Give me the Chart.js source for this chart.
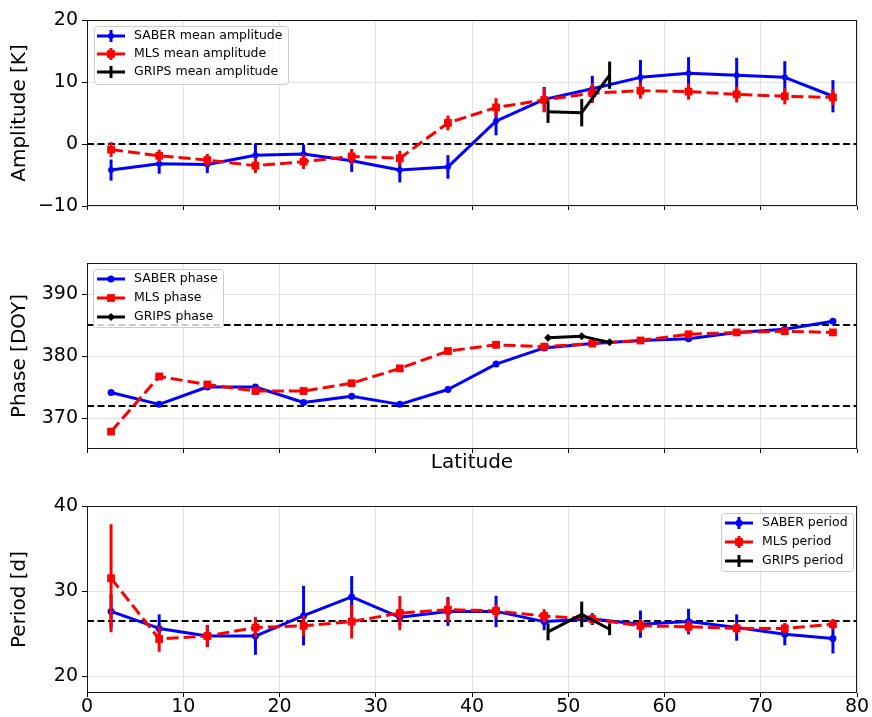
<!DOCTYPE html>
<html>
<head>
<meta charset="utf-8">
<title>Amplitude, phase and period versus latitude</title>
<script src="https://cdn.jsdelivr.net/npm/chart.js@4.4.1/dist/chart.umd.min.js"></script>
<style>
  html, body { margin: 0; padding: 0; background: #ffffff; }
  #wrap { position: relative; width: 872px; height: 717px; overflow: hidden; }
  #wrap canvas { position: absolute; left: 0; top: 0; }
</style>
</head>
<body>
<div id="wrap">
  <canvas id="cAmp" width="872" height="717"></canvas>
  <canvas id="cPhase" width="872" height="717"></canvas>
  <canvas id="cPeriod" width="872" height="717"></canvas>
</div>
<script>
// ---- data -------------------------------------------------------------
const latitudes      = [2.5, 7.5, 12.5, 17.5, 22.5, 27.5, 32.5, 37.5, 42.5, 47.5, 52.5, 57.5, 62.5, 67.5, 72.5, 77.5];
const gripsLatitudes = [47.9, 51.4, 54.3];

// mean amplitude [K]
const saberAmp    = [-4.2, -3.2, -3.3, -1.8, -1.6, -2.7, -4.2, -3.7, 3.7, 7.2, 8.9, 10.75, 11.4, 11.1, 10.75, 7.7];
const saberAmpErr = [1.7, 1.6, 1.4, 1.9, 1.5, 1.8, 2.0, 1.9, 2.3, 2.0, 2.1, 2.8, 2.6, 2.8, 2.6, 2.6];
const mlsAmp      = [-0.9, -1.9, -2.6, -3.5, -2.85, -2.0, -2.3, 3.4, 5.9, 7.1, 8.2, 8.6, 8.45, 8.0, 7.7, 7.5];
const mlsAmpErr   = [1.2, 1.0, 1.0, 1.2, 1.2, 1.2, 1.2, 1.2, 1.5, 2.0, 1.6, 1.3, 1.3, 1.3, 1.3, 1.3];
const gripsAmp    = [5.2, 5.05, 11.1];
const gripsAmpErr = [1.8, 2.2, 2.2];

// phase [DOY]
const saberPhase = [374.1, 372.2, 375.0, 375.0, 372.5, 373.5, 372.2, 374.6, 378.7, 381.3, 382.0, 382.5, 382.8, 383.8, 384.3, 385.6];
const mlsPhase   = [367.8, 376.7, 375.4, 374.35, 374.35, 375.6, 378.0, 380.8, 381.8, 381.5, 382.0, 382.5, 383.5, 383.8, 384.0, 383.8];
const gripsPhase = [382.95, 383.2, 382.2];

// period [d]
const saberPeriod    = [27.6, 25.6, 24.7, 24.7, 27.1, 29.3, 26.9, 27.6, 27.6, 26.4, 26.7, 26.1, 26.4, 25.7, 24.9, 24.4];
const saberPeriodErr = [2.0, 1.65, 1.3, 2.2, 3.5, 2.45, 1.0, 1.7, 1.85, 1.0, 0.7, 1.6, 1.5, 1.55, 1.3, 1.75];
const mlsPeriod      = [31.5, 24.35, 24.7, 25.7, 25.9, 26.4, 27.4, 27.8, 27.65, 27.06, 26.7, 25.9, 25.8, 25.6, 25.6, 26.1];
const mlsPeriodErr   = [6.35, 1.5, 1.3, 1.2, 1.2, 2.0, 2.0, 1.4, 0.8, 0.8, 0.6, 0.8, 0.7, 0.6, 0.6, 0.6];
const gripsPeriod    = [25.2, 27.25, 25.5];
const gripsPeriodErr = [1.0, 1.5, 0.7];

// reference levels (dashed lines)
const ampRefLines    = [0];
const phaseRefLines  = [385, 372];
const periodRefLines = [26.5];

// tick values
const latTicks    = [0, 10, 20, 30, 40, 50, 60, 70, 80];
const ampTicks    = [-10, 0, 10, 20];
const phaseTicks  = [370, 380, 390];
const periodTicks = [20, 30, 40];

// ---- styling ----------------------------------------------------------
const FONT = '"DejaVu Sans", "Liberation Sans", sans-serif';
Chart.defaults.font.family = FONT;
Chart.defaults.color = '#000000';

const BLUE = '#0000ff', RED = '#ff0000', BLACK = '#000000';
const GRID = 'rgba(176,176,176,0.35)';

function fmtTick(v) {
  return v < 0 ? '\u2212' + Math.abs(v) : String(v);
}

function series(label, xs, ys, errs, style) {
  return Object.assign({
    label: label,
    data: xs.map((x, i) => ({ x: x, y: ys[i] })),
    errors: errs,
    showLine: true,
    fill: false,
    tension: 0,
    borderWidth: 3,
    borderJoinStyle: 'round',
    borderCapStyle: 'butt',
    pointBorderWidth: 0,
    pointHoverRadius: 0
  }, style);
}

const saberStyle = (r) => ({ borderColor: BLUE, backgroundColor: BLUE, pointStyle: 'circle', pointRadius: r, order: 3 });
const mlsStyle   = (r) => ({ borderColor: RED, backgroundColor: RED, borderDash: [12, 5], pointStyle: 'rect', pointRadius: r, order: 2 });
const gripsStyle = (ps, r) => ({ borderColor: BLACK, backgroundColor: BLACK, pointStyle: ps, pointRadius: r, order: 1 });

// per-panel decorations: reference lines, axis titles, legend box
const decor = {
  cAmp: {
    refLines: ampRefLines,
    yTitle: 'Amplitude [K]',
    legend: { x: 94, y: 26, w: 194, h: 58, x0: 97, x1: 125, tx: 134, rows: [36, 54, 72], items: [0, 1, 2], errBars: true }
  },
  cPhase: {
    refLines: phaseRefLines,
    yTitle: 'Phase [DOY]',
    xTitle: 'Latitude',
    legend: { x: 93, y: 269, w: 130, h: 58, x0: 97, x1: 125, tx: 134, rows: [279, 298, 317], items: [0, 1, 2], errBars: false }
  },
  cPeriod: {
    refLines: periodRefLines,
    yTitle: 'Period [d]',
    legend: { x: 721, y: 513, w: 132, h: 58, x0: 725, x1: 753, tx: 762, rows: [523, 542, 561], items: [0, 1, 2], errBars: true }
  }
};

function markerPath(ctx, style, r, x, y) {
  ctx.beginPath();
  if (style === 'circle') {
    ctx.arc(x, y, r, 0, Math.PI * 2);
  } else if (style === 'rect') {
    const s = Math.SQRT1_2 * r;
    ctx.rect(x - s, y - s, 2 * s, 2 * s);
  } else if (style === 'rectRot') {
    ctx.moveTo(x, y - r); ctx.lineTo(x + r, y); ctx.lineTo(x, y + r); ctx.lineTo(x - r, y); ctx.closePath();
  }
}

const panelDecor = {
  id: 'panelDecor',
  beforeDatasetsDraw(chart) {
    const d = decor[chart.canvas.id];
    const { ctx, chartArea: a } = chart;
    const y = chart.scales.y;
    ctx.save();
    ctx.beginPath(); ctx.rect(a.left, a.top, a.width, a.height); ctx.clip();
    ctx.strokeStyle = BLACK; ctx.lineWidth = 2; ctx.setLineDash([7, 3.5]);
    d.refLines.forEach(v => {
      const py = Math.round(y.getPixelForValue(v));
      ctx.beginPath(); ctx.moveTo(a.left, py); ctx.lineTo(a.right, py); ctx.stroke();
    });
    ctx.restore();
  },
  beforeDatasetDraw(chart, args) {
    const ds = chart.data.datasets[args.index];
    if (!ds.errors) return;
    const { ctx, chartArea: a } = chart;
    const xs = chart.scales.x, ys = chart.scales.y;
    ctx.save();
    ctx.beginPath(); ctx.rect(a.left, a.top, a.width, a.height); ctx.clip();
    ctx.strokeStyle = ds.borderColor; ctx.lineWidth = 3; ctx.setLineDash([]); ctx.lineCap = 'butt';
    ds.data.forEach((p, i) => {
      const e = ds.errors[i];
      const px = xs.getPixelForValue(p.x);
      ctx.beginPath();
      ctx.moveTo(px, ys.getPixelForValue(p.y - e));
      ctx.lineTo(px, ys.getPixelForValue(p.y + e));
      ctx.stroke();
    });
    ctx.restore();
  },
  afterDraw(chart) {
    const d = decor[chart.canvas.id];
    const { ctx, chartArea: a } = chart;
    ctx.save();
    // axes frame
    ctx.strokeStyle = '#1a1a1a'; ctx.lineWidth = 1; ctx.setLineDash([]);
    ctx.strokeRect(a.left + 0.5, a.top + 0.5, a.width - 1, a.height - 1);

    // axis titles
    ctx.fillStyle = BLACK;
    ctx.font = '20px ' + FONT;
    ctx.textAlign = 'center'; ctx.textBaseline = 'middle';
    ctx.save();
    ctx.translate(20, (a.top + a.bottom) / 2);
    ctx.rotate(-Math.PI / 2);
    ctx.fillText(d.yTitle, 0, 0);
    ctx.restore();
    if (d.xTitle) ctx.fillText(d.xTitle, (a.left + a.right) / 2, a.bottom + 14);

    // legend
    const L = d.legend;
    ctx.fillStyle = 'rgba(255,255,255,0.8)';
    ctx.strokeStyle = '#cccccc'; ctx.lineWidth = 1;
    ctx.beginPath();
    if (ctx.roundRect) ctx.roundRect(L.x + 0.5, L.y + 0.5, L.w, L.h, 3);
    else ctx.rect(L.x + 0.5, L.y + 0.5, L.w, L.h);
    ctx.fill(); ctx.stroke();
    L.items.forEach((idx, k) => {
      const ds = chart.data.datasets[idx];
      const cy = L.rows[k];
      const cx = (L.x0 + L.x1) / 2;
      ctx.strokeStyle = ds.borderColor; ctx.lineWidth = 3; ctx.lineCap = 'butt';
      ctx.setLineDash(ds.borderDash || []);
      ctx.beginPath(); ctx.moveTo(L.x0, cy); ctx.lineTo(L.x1, cy); ctx.stroke();
      ctx.setLineDash([]);
      if (L.errBars) {
        ctx.beginPath(); ctx.moveTo(cx, cy - 6); ctx.lineTo(cx, cy + 6); ctx.stroke();
      }
      if (ds.pointRadius > 0) {
        ctx.fillStyle = ds.backgroundColor;
        markerPath(ctx, ds.pointStyle, ds.pointRadius, cx, cy);
        ctx.fill();
      }
      ctx.fillStyle = BLACK;
      ctx.font = '12.5px ' + FONT;
      ctx.textAlign = 'left'; ctx.textBaseline = 'middle';
      ctx.fillText(ds.label, L.tx, cy);
    });
    ctx.restore();
  }
};
Chart.register(panelDecor);

function makePanel(id, cfg) {
  const H = 717;
  return new Chart(document.getElementById(id), {
    type: 'line',
    data: { datasets: cfg.datasets },
    options: {
      responsive: false,
      animation: false,
      devicePixelRatio: 1,
      events: [],
      layout: { padding: { left: 0, right: 15, top: cfg.top, bottom: H - cfg.bottom - cfg.xAxisH } },
      plugins: { legend: { display: false }, tooltip: { enabled: false } },
      scales: {
        x: {
          type: 'linear', min: 0, max: 80,
          afterBuildTicks: s => { s.ticks = latTicks.map(v => ({ value: v })); },
          afterFit: s => { s.height = cfg.xAxisH; },
          ticks: { display: cfg.xLabels, padding: 0, maxRotation: 0, autoSkip: false,
                   font: { size: 19, lineHeight: 1.1 }, color: BLACK, callback: fmtTick },
          grid: { color: GRID, lineWidth: 1, drawTicks: true, tickLength: 4, tickColor: BLACK, tickWidth: 1 },
          border: { display: false }
        },
        y: {
          type: 'linear', min: cfg.yMin, max: cfg.yMax,
          afterBuildTicks: s => { s.ticks = cfg.yTicks.map(v => ({ value: v })); },
          afterFit: s => { s.width = 87; },
          ticks: { padding: 4, autoSkip: false, font: { size: 19 }, color: BLACK, callback: fmtTick },
          grid: { color: GRID, lineWidth: 1, drawTicks: true, tickLength: 5, tickColor: BLACK, tickWidth: 1 },
          border: { display: false }
        }
      }
    }
  });
}

makePanel('cAmp', {
  top: 20, bottom: 206, xAxisH: 10, xLabels: false,
  yMin: -10, yMax: 20, yTicks: ampTicks,
  datasets: [
    series('SABER mean amplitude', latitudes, saberAmp, saberAmpErr, saberStyle(3)),
    series('MLS mean amplitude', latitudes, mlsAmp, mlsAmpErr, mlsStyle(5.5)),
    series('GRIPS mean amplitude', gripsLatitudes, gripsAmp, gripsAmpErr, gripsStyle('circle', 0))
  ]
});

makePanel('cPhase', {
  top: 263, bottom: 449, xAxisH: 10, xLabels: false,
  yMin: 365, yMax: 395, yTicks: phaseTicks,
  datasets: [
    series('SABER phase', latitudes, saberPhase, null, saberStyle(3.5)),
    series('MLS phase', latitudes, mlsPhase, null, mlsStyle(5.5)),
    series('GRIPS phase', gripsLatitudes, gripsPhase, null, gripsStyle('rectRot', 4))
  ]
});

makePanel('cPeriod', {
  top: 506, bottom: 693, xAxisH: 24, xLabels: true,
  yMin: 18, yMax: 40, yTicks: periodTicks,
  datasets: [
    series('SABER period', latitudes, saberPeriod, saberPeriodErr, saberStyle(3.5)),
    series('MLS period', latitudes, mlsPeriod, mlsPeriodErr, mlsStyle(5.5)),
    series('GRIPS period', gripsLatitudes, gripsPeriod, gripsPeriodErr, gripsStyle('circle', 0))
  ]
});
</script>
</body>
</html>
